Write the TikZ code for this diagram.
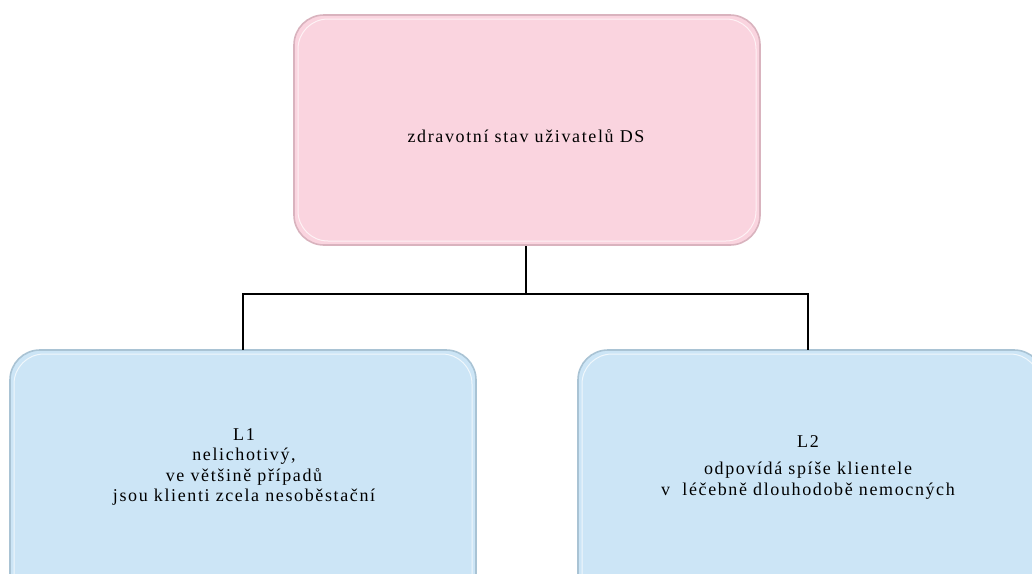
\documentclass[tikz,border=0pt]{standalone}
\usepackage{fontspec}
\setmainfont{Liberation Serif}[LetterSpace=9]
\usetikzlibrary{positioning}
\definecolor{pinkfill}{HTML}{FAD4DF}
\definecolor{pinkedge}{HTML}{D9B3BE}
\definecolor{bluefill}{HTML}{CCE5F6}
\definecolor{blueedge}{HTML}{A9C3D4}
\tikzset{
  x=1pt, y=-1pt,
  card/.style={rounded corners=30pt, line width=1.6pt},
  lbl/.style={align=center, font=\fontsize{18}{20.5}\selectfont, inner sep=0pt},
  wire/.style={line width=1.5pt, black},
}
\begin{document}
\begin{tikzpicture}
\useasboundingbox (0,0) rectangle (1032,573);
\clip (0,0) rectangle (1032,573);
% boxes
\draw[card, draw=pinkedge, fill=pinkfill] (294,15) rectangle (760,245);
\draw[card, draw=white!70!pinkfill, line width=1pt] (298,19) rectangle (756,241);
\draw[card, draw=blueedge, fill=bluefill] (10,350) rectangle (476,610);
\draw[card, draw=white!70!bluefill, line width=1pt] (14,354) rectangle (472,606);
\draw[card, draw=blueedge, fill=bluefill] (578,350) rectangle (1044,610);
\draw[card, draw=white!70!bluefill, line width=1pt] (582,354) rectangle (1040,606);
% anchors
\coordinate (top) at (526,246);
\coordinate (left) at (243,350);
\coordinate (right) at (808,350);
% texts
\node[lbl] (t0) at (526,136) {zdravotní stav uživatelů DS};
\node[lbl] (t1) at (244,467) {L1\\nelichotivý,\\ve většině případů\\jsou klienti zcela nesoběstační};
\node[lbl] (t2) at (808,467) {L2\\[7pt]odpovídá spíše klientele\\v\ \ léčebně dlouhodobě nemocných};
% connectors
\draw[wire] (top) -- (top |- 0,294) -| (left);
\draw[wire] (top |- 0,294) -| (right);
\end{tikzpicture}
\end{document}
